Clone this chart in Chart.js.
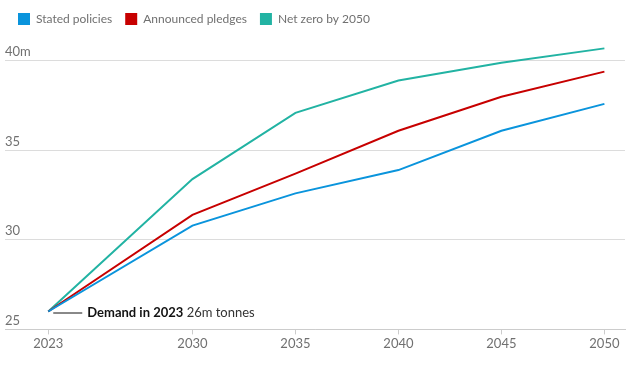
<!DOCTYPE html>
<html>
<head>
<meta charset="utf-8">
<script src="https://cdn.jsdelivr.net/npm/chart.js@4/dist/chart.umd.min.js"></script>
<style>
  html, body { margin: 0; padding: 0; background: #ffffff; }
  #wrap { width: 638px; height: 366px; position: relative; }
</style>
</head>
<body>
<div id="wrap"><canvas id="c"></canvas></div>
<script>
// ---- data ----
const years = [2023, 2030, 2035, 2040, 2045, 2050];
const statedPolicies = [26, 30.8, 32.6, 33.9, 36.1, 37.6];
const announcedPledges = [26, 31.4, 33.7, 36.1, 38.0, 39.4];
const netZero2050 = [26, 33.4, 37.1, 38.9, 39.9, 40.7];
const seriesNames = ['Stated policies', 'Announced pledges', 'Net zero by 2050'];
const yTicks = [25, 30, 35, 40];
const xTicks = [2023, 2030, 2035, 2040, 2045, 2050];
const annotationYear = 2023;
const annotationValue = 26;
const annotationBold = 'Demand in 2023';
const annotationRest = ' 26m tonnes';

const colors = ['#0a94dc', '#c70000', '#22b3a3'];
const FONT = 'Lato, "Noto Sans", sans-serif';

function toPoints(vals) { return years.map((y, i) => ({ x: y, y: vals[i] })); }

const annotationPlugin = {
  id: 'demandNote',
  afterDatasetsDraw(chart) {
    const { ctx, scales } = chart;
    const px = scales.x.getPixelForValue(annotationYear);
    const py = scales.y.getPixelForValue(annotationValue) + 1;
    ctx.save();
    ctx.strokeStyle = '#121212';
    ctx.lineWidth = 1;
    ctx.beginPath();
    ctx.moveTo(px + 5, py + 0.5);
    ctx.lineTo(px + 34, py + 0.5);
    ctx.stroke();
    ctx.textBaseline = 'middle';
    ctx.textAlign = 'left';
    ctx.font = 'bold 13px ' + FONT;
    ctx.fillStyle = '#121212';
    ctx.fillText(annotationBold, px + 39, py);
    const w = ctx.measureText(annotationBold).width;
    ctx.font = '13px ' + FONT;
    ctx.fillStyle = '#333333';
    ctx.fillText(annotationRest, px + 39 + w, py);
    ctx.restore();
  }
};

// extra space under the legend
const legendGap = {
  id: 'legendGap',
  beforeInit(chart) {
    const orig = chart.legend.fit;
    chart.legend.fit = function () {
      orig.call(this);
      this.height += 8;
    };
  }
};

new Chart(document.getElementById('c'), {
  type: 'line',
  data: {
    datasets: [
      { label: seriesNames[0], data: toPoints(statedPolicies), borderColor: colors[0], backgroundColor: colors[0] },
      { label: seriesNames[1], data: toPoints(announcedPledges), borderColor: colors[1], backgroundColor: colors[1] },
      { label: seriesNames[2], data: toPoints(netZero2050), borderColor: colors[2], backgroundColor: colors[2] }
    ]
  },
  options: {
    responsive: true,
    maintainAspectRatio: false,
    animation: false,
    layout: { padding: { left: 5, right: 13, top: 0, bottom: 12 } },
    elements: {
      line: { borderWidth: 2, tension: 0 },
      point: { radius: 0, hoverRadius: 0 }
    },
    plugins: {
      tooltip: { enabled: false },
      legend: {
        position: 'top',
        align: 'start',
        labels: {
          boxWidth: 12,
          boxHeight: 12,
          padding: 13,
          color: '#707070',
          font: { family: FONT, size: 12 },
          generateLabels(chart) {
            return chart.data.datasets.map((ds, i) => ({
              text: ds.label,
              fillStyle: ds.borderColor,
              strokeStyle: ds.borderColor,
              lineWidth: 0,
              hidden: false,
              datasetIndex: i,
              fontColor: '#707070'
            }));
          }
        }
      }
    },
    scales: {
      x: {
        type: 'linear',
        min: 2020.9,
        max: 2051,
        afterBuildTicks(scale) { scale.ticks = xTicks.map(v => ({ value: v })); },
        grid: { drawOnChartArea: false, drawTicks: true, tickLength: 5, color: '#cccccc' },
        border: { display: true, color: '#cccccc' },
        ticks: {
          padding: 2,
          color: '#707070',
          font: { family: FONT, size: 13 },
          maxRotation: 0,
          callback: v => String(v)
        }
      },
      y: {
        min: 25,
        max: 41,
        afterBuildTicks(scale) { scale.ticks = yTicks.map(v => ({ value: v })); },
        grid: { drawTicks: false, color: '#dcdcdc' },
        border: { display: false },
        ticks: {
          mirror: true,
          padding: 0,
          labelOffset: -9,
          color: '#707070',
          font: { family: FONT, size: 13 },
          callback: v => (v === 40 ? '40m' : String(v))
        }
      }
    }
  },
  plugins: [annotationPlugin, legendGap]
});
</script>
</body>
</html>
